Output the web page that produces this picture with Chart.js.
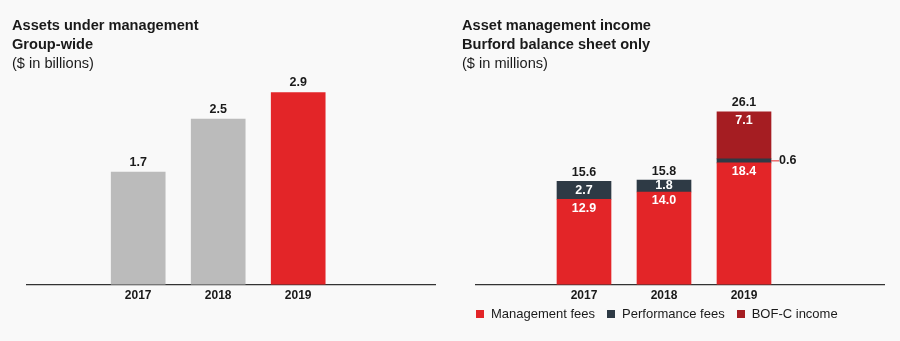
<!DOCTYPE html>
<html>
<head>
<meta charset="utf-8">
<script src="https://cdn.jsdelivr.net/npm/chart.js@4"></script>
<style>
  body { margin: 0; background: #fff; font-family: "Liberation Sans", Arial, sans-serif; }
  #wrap { position: relative; width: 900px; height: 341px; background: #f9f9f9; overflow: hidden; }
  .panel { position: absolute; top: 0; width: 450px; height: 341px; }
  .panel canvas { position: absolute; left: 0; top: 0; }
  .title { position: absolute; left: 12px; top: 16px; font-size: 14.6px; line-height: 19px; color: #1a1a1a; }
  .title b { font-weight: bold; }
  #legend { position: absolute; left: 26px; top: 306px; display: flex; font-size: 13px; color: #1a1a1a; line-height: 16px; }
  #legend span.item { display: flex; align-items: center; margin-right: 12px; }
  #legend i { display: inline-block; width: 8px; height: 8px; margin-right: 7px; }
</style>
</head>
<body>
<div id="wrap">
  <div class="panel" style="left:0">
    <canvas id="aumChart" width="450" height="341"></canvas>
    <div class="title"><b>Assets under management</b><br><b>Group-wide</b><br>($ in billions)</div>
  </div>
  <div class="panel" style="left:450px">
    <canvas id="incomeChart" width="450" height="341"></canvas>
    <div class="title"><b>Asset management income</b><br><b>Burford balance sheet only</b><br>($ in millions)</div>
    <div id="legend"></div>
  </div>
</div>
<script>
var years = [2017, 2018, 2019];
var aum = [1.7, 2.5, 2.9];
var aumColors = ['#bbbbbb', '#bbbbbb', '#e32528'];
var mgmtFees = [12.9, 14.0, 18.4];
var perfFees = [2.7, 1.8, 0.6];
var bofcIncome = [null, null, 7.1];
var seriesNames = ['Management fees', 'Performance fees', 'BOF-C income'];
var seriesColors = ['#e32528', '#2e3a45', '#a51d22'];

var FONT = '"Liberation Sans", Arial, sans-serif';

function points(vals) {
  return years.map(function (y, i) { return { x: y, y: vals[i] }; });
}

function xAxis(min, max) {
  return {
    type: 'linear', min: min, max: max, stacked: true, offset: false,
    grid: { display: false, drawTicks: false },
    border: { color: '#333', width: 1.2 },
    afterBuildTicks: function (scale) {
      scale.ticks = years.map(function (v) { return { value: v }; });
    },
    ticks: {
      padding: 4, color: '#1a1a1a',
      font: { family: FONT, size: 12, weight: 'bold' },
      callback: function (v) { return String(v); }
    }
  };
}

// value labels for the left chart
var aumLabels = {
  id: 'aumLabels',
  afterDatasetsDraw: function (chart) {
    var ctx = chart.ctx;
    ctx.save();
    ctx.font = 'bold 12.5px ' + FONT;
    ctx.fillStyle = '#1a1a1a';
    ctx.textAlign = 'center';
    ctx.textBaseline = 'middle';
    chart.getDatasetMeta(0).data.forEach(function (bar, i) {
      ctx.fillText(aum[i].toFixed(1), bar.x, bar.y - 10);
    });
    ctx.restore();
  }
};

new Chart(document.getElementById('aumChart'), {
  type: 'bar',
  data: {
    datasets: [{
      data: points(aum),
      backgroundColor: aumColors,
      barThickness: 54
    }]
  },
  options: {
    responsive: false,
    animation: false,
    layout: { padding: { left: 27, right: 15, top: 53, bottom: 34 } },
    plugins: { legend: { display: false }, tooltip: { enabled: false } },
    scales: {
      x: xAxis(2015.61, 2020.71),
      y: { display: false, min: 0, max: 3.5 }
    }
  },
  plugins: [aumLabels]
});

// segment labels, totals and the small-segment callout for the right chart
var incomeLabels = {
  id: 'incomeLabels',
  afterDatasetsDraw: function (chart) {
    var ctx = chart.ctx;
    var series = [mgmtFees, perfFees, bofcIncome];
    ctx.save();
    ctx.font = 'bold 12.5px ' + FONT;
    ctx.textBaseline = 'middle';
    years.forEach(function (yr, i) {
      var top = Infinity, total = 0, cx = 0;
      series.forEach(function (vals, d) {
        var v = vals[i];
        if (!v) return;
        var bar = chart.getDatasetMeta(d).data[i];
        total += v;
        cx = bar.x;
        top = Math.min(top, bar.y);
        var mid = (bar.y + bar.base) / 2;
        if (v >= 1) {
          ctx.fillStyle = '#fff';
          ctx.textAlign = 'center';
          ctx.fillText(v.toFixed(1), bar.x, Math.min(bar.y + 9, mid));
        } else {
          var right = bar.x + bar.width / 2;
          ctx.strokeStyle = seriesColors[0];
          ctx.lineWidth = 1;
          ctx.beginPath();
          ctx.moveTo(right, mid);
          ctx.lineTo(right + 8, mid);
          ctx.stroke();
          ctx.fillStyle = '#1a1a1a';
          ctx.textAlign = 'left';
          ctx.fillText(v.toFixed(1), right + 8, mid);
        }
      });
      ctx.fillStyle = '#1a1a1a';
      ctx.textAlign = 'center';
      ctx.fillText(total.toFixed(1), cx, top - 9);
    });
    ctx.restore();
  }
};

var incomeChart = new Chart(document.getElementById('incomeChart'), {
  type: 'bar',
  data: {
    datasets: [
      { label: seriesNames[0], data: points(mgmtFees), backgroundColor: seriesColors[0], barThickness: 54 },
      { label: seriesNames[1], data: points(perfFees), backgroundColor: seriesColors[1], barThickness: 54 },
      { label: seriesNames[2], data: points(bofcIncome), backgroundColor: seriesColors[2], barThickness: 54 }
    ]
  },
  options: {
    responsive: false,
    animation: false,
    layout: { padding: { left: 26, right: 16, top: 53, bottom: 34 } },
    plugins: { legend: { display: false }, tooltip: { enabled: false } },
    scales: {
      x: xAxis(2015.65, 2020.75),
      y: { display: false, stacked: true, min: 0, max: 35 }
    }
  },
  plugins: [incomeLabels]
});

// html legend built from the dataset names and colours
var legend = document.getElementById('legend');
incomeChart.data.datasets.forEach(function (ds) {
  var item = document.createElement('span');
  item.className = 'item';
  item.innerHTML = '<i style="background:' + ds.backgroundColor + '"></i>' + ds.label;
  legend.appendChild(item);
});
</script>
</body>
</html>
